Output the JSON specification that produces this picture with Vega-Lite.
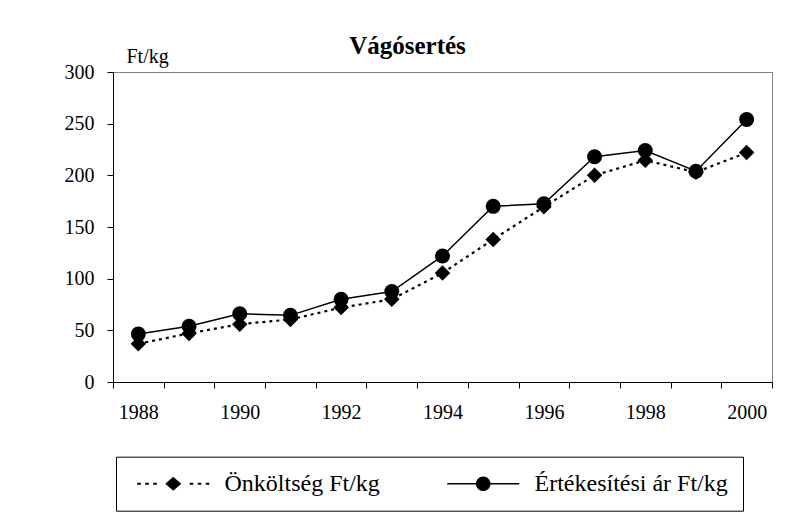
{
  "$schema": "https://vega.github.io/schema/vega-lite/v6.json",
  "autosize": {"type": "none"},
  "width": 659,
  "height": 310,
  "padding": {"left": 113, "top": 72, "right": 34, "bottom": 141},
  "background": "white",
  "config": {
    "font": "Liberation Serif",
    "view": {"stroke": "#808080", "strokeWidth": 1}
  },
  "title": {
    "text": "Vágósertés",
    "font": "Liberation Serif",
    "fontSize": 25,
    "fontWeight": "bold",
    "color": "black",
    "anchor": "middle",
    "dx": -35,
    "dy": 26,
    "offset": 13
  },
  "data": {
    "values": [
      {"ev": 1988, "sorozat": "Önköltség Ft/kg", "ertek": 37},
      {"ev": 1989, "sorozat": "Önköltség Ft/kg", "ertek": 47},
      {"ev": 1990, "sorozat": "Önköltség Ft/kg", "ertek": 56},
      {"ev": 1991, "sorozat": "Önköltség Ft/kg", "ertek": 60.5},
      {"ev": 1992, "sorozat": "Önköltség Ft/kg", "ertek": 72},
      {"ev": 1993, "sorozat": "Önköltség Ft/kg", "ertek": 80},
      {"ev": 1994, "sorozat": "Önköltség Ft/kg", "ertek": 105.5},
      {"ev": 1995, "sorozat": "Önköltség Ft/kg", "ertek": 138},
      {"ev": 1996, "sorozat": "Önköltség Ft/kg", "ertek": 169.5},
      {"ev": 1997, "sorozat": "Önköltség Ft/kg", "ertek": 200},
      {"ev": 1998, "sorozat": "Önköltség Ft/kg", "ertek": 214.5},
      {"ev": 1999, "sorozat": "Önköltség Ft/kg", "ertek": 203},
      {"ev": 2000, "sorozat": "Önköltség Ft/kg", "ertek": 222},
      {"ev": 1988, "sorozat": "Értékesítési ár Ft/kg", "ertek": 46.5},
      {"ev": 1989, "sorozat": "Értékesítési ár Ft/kg", "ertek": 54},
      {"ev": 1990, "sorozat": "Értékesítési ár Ft/kg", "ertek": 66},
      {"ev": 1991, "sorozat": "Értékesítési ár Ft/kg", "ertek": 64.5},
      {"ev": 1992, "sorozat": "Értékesítési ár Ft/kg", "ertek": 80},
      {"ev": 1993, "sorozat": "Értékesítési ár Ft/kg", "ertek": 87.5},
      {"ev": 1994, "sorozat": "Értékesítési ár Ft/kg", "ertek": 122},
      {"ev": 1995, "sorozat": "Értékesítési ár Ft/kg", "ertek": 170},
      {"ev": 1996, "sorozat": "Értékesítési ár Ft/kg", "ertek": 172.5},
      {"ev": 1997, "sorozat": "Értékesítési ár Ft/kg", "ertek": 218},
      {"ev": 1998, "sorozat": "Értékesítési ár Ft/kg", "ertek": 224},
      {"ev": 1999, "sorozat": "Értékesítési ár Ft/kg", "ertek": 204},
      {"ev": 2000, "sorozat": "Értékesítési ár Ft/kg", "ertek": 254}
    ]
  },
  "encoding": {
    "x": {
      "field": "ev",
      "type": "quantitative",
      "scale": {"domain": [1987.5, 2000.5], "nice": false, "zero": false},
      "axis": {
        "title": null,
        "values": [1987.5, 1988.5, 1989.5, 1990.5, 1991.5, 1992.5, 1993.5, 1994.5, 1995.5, 1996.5, 1997.5, 1998.5, 1999.5, 2000.5],
        "labelExpr": "datum.value % 2 == 1.5 ? toString(datum.value + 0.5) : ''",
        "labelOffset": 25.35,
        "labelOverlap": false,
        "labelFlush": false,
        "labelBound": false,
        "labelFontSize": 20,
        "labelColor": "black",
        "labelPadding": 14,
        "tickSize": 6,
        "tickColor": "black",
        "domainColor": "black",
        "grid": false
      }
    },
    "y": {
      "field": "ertek",
      "type": "quantitative",
      "scale": {"domain": [0, 300], "nice": false},
      "axis": {
        "title": "Ft/kg",
        "titleAngle": 0,
        "titleX": 13,
        "titleY": -10,
        "titleAlign": "left",
        "titleBaseline": "alphabetic",
        "titleFontWeight": "normal",
        "titleFontSize": 20,
        "titleColor": "black",
        "values": [0, 50, 100, 150, 200, 250, 300],
        "labelFontSize": 20,
        "labelColor": "black",
        "labelPadding": 13,
        "labelFlush": false,
        "tickSize": 6,
        "tickColor": "black",
        "domainColor": "black",
        "grid": false
      }
    }
  },
  "layer": [
    {
      "transform": [{"filter": "datum.sorozat == 'Önköltség Ft/kg'"}],
      "mark": {"type": "line", "color": "black", "strokeDash": [3, 4], "strokeWidth": 2.2},
      "encoding": {}
    },
    {
      "transform": [{"filter": "datum.sorozat == 'Értékesítési ár Ft/kg'"}],
      "mark": {"type": "line", "color": "black", "strokeWidth": 1.5},
      "encoding": {}
    },
    {
      "transform": [{"filter": "datum.sorozat == 'Önköltség Ft/kg'"}],
      "mark": {"type": "point", "shape": "diamond", "filled": true, "color": "black", "opacity": 1, "size": 240}
    },
    {
      "transform": [{"filter": "datum.sorozat == 'Értékesítési ár Ft/kg'"}],
      "mark": {"type": "point", "shape": "circle", "filled": true, "color": "black", "size": 225},
      "encoding": {
        "opacity": {
          "field": "sorozat",
          "type": "ordinal",
          "scale": {"domain": ["Önköltség Ft/kg", "Értékesítési ár Ft/kg"], "range": [1, 1]},
          "legend": {
            "title": null,
            "orient": "none",
            "legendX": 3,
            "legendY": 384.7,
            "direction": "horizontal",
            "columns": 2,
            "columnPadding": 52,
            "padding": 15,
            "strokeColor": "black",
            "fillColor": "white",
            "symbolSize": 100,
            "symbolOffset": 30.25,
            "symbolStrokeWidth": 1.5,
            "symbolFillColor": "black",
            "symbolStrokeColor": "black",
            "symbolOpacity": 1,
            "symbolType": {"expr": "datum.value == 'Önköltség Ft/kg' ? 'M-9.6,0M-7.2,-0.2H-6.5V0.2H-7.2ZM-5.6,-0.2H-4.9V0.2H-5.6ZM-4,-0.2H-3.3V0.2H-4ZM3.3,-0.2H4V0.2H3.3ZM4.9,-0.2H5.6V0.2H4.9ZM6.5,-0.2H7.2V0.2H6.5ZM-1.6,0L0,-1.4L1.6,0L0,1.4Z' : 'M-9.6,0M-7.2,-0.16H-1.2V0.16H-7.2ZM1.2,-0.16H7.2V0.16H1.2ZM1.46,0A1.46,1.46 0 1,1 -1.46,0A1.46,1.46 0 1,1 1.46,0Z'"},
            "labelFontSize": 24,
            "labelColor": "black",
            "labelOffset": 39.25,
            "labelLimit": 400,
            "labelExpr": "datum.value == 'Értékesítési ár Ft/kg' ? datum.label + '\u00a0\u00a0\u00a0\u00a0\u00a0\u00a0\u00a0\u00a0' : datum.label"
          }
        }
      }
    }
  ]
}
